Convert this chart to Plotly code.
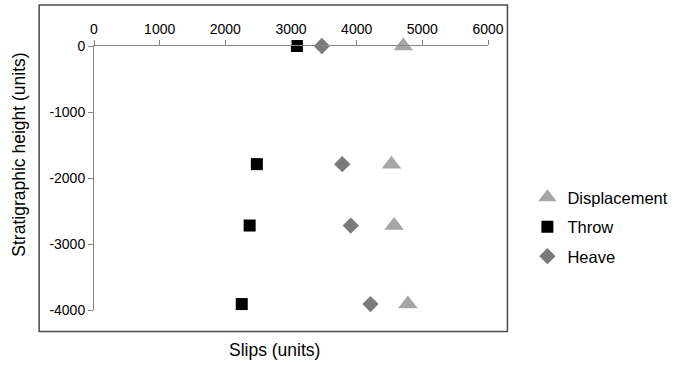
import plotly.graph_objects as go

# Slip measurements at each stratigraphic level
heights = [0, -1790, -2720, -3910]
displacement = [4710, 4530, 4570, 4780]
throw = [3090, 2480, 2370, 2250]
heave = [3470, 3780, 3910, 4210]

x_ticks = [0, 1000, 2000, 3000, 4000, 5000, 6000]
y_ticks = [0, -1000, -2000, -3000, -4000]
y_tick_text = ["0", "-1000", "-2000", "-3000", "-4000"]

FONT = "Liberation Sans, Arial, sans-serif"

fig = go.Figure()
fig.add_trace(go.Scatter(
    x=displacement, y=heights, mode="markers", name="Displacement",
    legendgroup="d", cliponaxis=False,
    marker=dict(symbol="triangle-up", size=17, color="#a6a6a6", line=dict(width=0)),
))
fig.add_trace(go.Scatter(
    x=throw, y=heights, mode="markers", name="Throw",
    legendgroup="t", cliponaxis=False,
    marker=dict(symbol="square", size=12, color="#000000", line=dict(width=0)),
))
fig.add_trace(go.Scatter(
    x=heave, y=heights, mode="markers", name="Heave",
    legendgroup="h", cliponaxis=False,
    marker=dict(symbol="diamond", size=12.5, color="#7a7a7a", line=dict(width=0)),
))

# plot area: x 93.5..488.5 px, y 46..310 px
L, R, T, B = 93.5, 488.5, 46, 310
W, H = R - L, B - T

def px(x):
    return (x - L) / W

def py(y):
    return (B - y) / H

fig.update_layout(
    width=678, height=365,
    margin=dict(l=L, r=678 - R, t=T, b=365 - B, pad=0, autoexpand=False),
    paper_bgcolor="white", plot_bgcolor="white",
    font=dict(family=FONT, size=14, color="#000000"),
    showlegend=True,
    legend=dict(
        x=px(528), y=py(180), xanchor="left", yanchor="top",
        font=dict(size=16.5, family=FONT, color="#000000"),
        tracegroupgap=5, bgcolor="rgba(0,0,0,0)",
    ),
    xaxis=dict(
        side="top", range=[0, 6000], tickvals=x_ticks,
        showline=True, linecolor="#868686", linewidth=1,
        ticks="outside", ticklen=5, tickcolor="#868686", tickwidth=1,
        showgrid=False, zeroline=False,
        tickfont=dict(size=14, family=FONT),
    ),
    yaxis=dict(
        range=[-4000, 0], tickvals=y_ticks, ticktext=y_tick_text,
        showline=True, linecolor="#868686", linewidth=1,
        ticks="outside", ticklen=5, tickcolor="#868686", tickwidth=1,
        showgrid=False, zeroline=False,
        tickfont=dict(size=14, family=FONT),
    ),
    shapes=[dict(
        type="rect", xref="paper", yref="paper",
        x0=px(38.5), x1=px(508), y0=py(331.5), y1=py(5),
        line=dict(color="#4a4a4a", width=1.5), fillcolor="rgba(0,0,0,0)",
        layer="below",
    )],
    annotations=[
        dict(text="Slips (units)", xref="paper", yref="paper",
             x=px(274), y=py(350), xanchor="center", yanchor="middle",
             showarrow=False, font=dict(size=17.5, family=FONT)),
        dict(text="Stratigraphic height (units)", xref="paper", yref="paper",
             x=px(18), y=py(155), xanchor="center", yanchor="middle",
             showarrow=False, textangle=-90,
             font=dict(size=17.5, family=FONT)),
    ],
)

fig.write_html("out.html")
